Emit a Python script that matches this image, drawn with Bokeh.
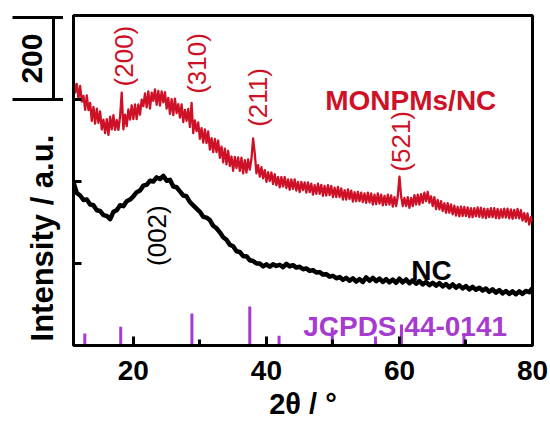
from bokeh.plotting import figure
from bokeh.layouts import row
from bokeh.models import FixedTicker, Label, Range1d
from bokeh.core.properties import value
from bokeh.embed import file_html
from bokeh.resources import INLINE
import numpy as np

RED = "#CE1126"
PURPLE = "#A63BD1"
FONT = "Liberation Sans"

# 2-theta sampling of the two scans
red_start, red_step = 11.0, 0.25
black_start, black_step = 11.0, 0.5

# MONPMs/NC diffractogram (a.u.), 11-80 deg in 0.25 deg steps
monpms_nc = [
    653, 617, 638, 602,  633, 595, 609, 575,  610, 574, 592, 548,
    582, 541, 578, 543,  571, 527, 551, 518,  552, 514, 558, 527,
    562, 526, 550, 526,  558, 617, 527, 563,  535, 576, 551, 586,
    552, 588, 552, 588,  563, 600, 584, 615,  581, 620, 578, 617,
    597, 625, 587, 621,  585, 620, 593, 618,  578, 604, 565, 601,
    562, 602, 567, 589,  556, 588, 545, 575,  548, 577, 533, 592,
    518, 549, 523, 544,  504, 530, 495, 527,  494, 522, 478, 506,
    472, 504, 472, 500,  458, 485, 447, 480,  442, 475, 438, 461,
    426, 460, 433, 459,  426, 458, 420, 452,  422, 454, 429, 455,
    505, 468, 420, 440,  412, 435, 408, 428,  399, 423, 401, 422,
    394, 418, 391, 411,  386, 411, 388, 411,  384, 405, 380, 405,
    382, 405, 378, 399,  374, 399, 379, 398,  373, 398, 374, 395,
    368, 391, 370, 395,  370, 392, 365, 389,  366, 391, 367, 389,
    362, 385, 362, 387,  362, 383, 356, 379,  356, 381, 357, 378,
    351, 374, 352, 375,  352, 373, 350, 371,  348, 373, 349, 371,
    344, 368, 345, 371,  346, 368, 342, 365,  343, 368, 344, 366,
    339, 362, 340, 364,  412, 364, 340, 360,  340, 362, 336, 360,
    340, 367, 344, 368,  344, 369, 348, 373,  352, 375, 348, 364,
    340, 362, 333, 355,  332, 352, 328, 347,  324, 347, 324, 344,
    320, 341, 317, 338,  315, 339, 316, 338,  316, 337, 313, 335,
    313, 335, 315, 337,  314, 336, 312, 334,  311, 333, 313, 335,
    313, 335, 311, 333,  310, 332, 312, 334,  312, 334, 310, 332,
    309, 331, 311, 333,  310, 330, 305, 323,  302, 322, 295, 313,
    302,
]

# NC diffractogram (a.u.), 11-80 deg in 0.5 deg steps
nc = [
    398, 372, 366, 355, 356, 344, 342, 330, 328, 318, 316, 308,
    326, 330, 342, 340, 352, 356, 364, 374, 378, 390, 392, 402,
    400, 410, 406, 414, 402, 404, 388, 386, 376, 366, 364, 350,
    342, 334, 326, 314, 312, 306, 292, 286, 276, 264, 258, 246,
    242, 230, 228, 218, 218, 208, 206, 200, 200, 193, 198, 192,
    198, 194, 197, 191, 199, 193, 196, 190, 192, 186, 188, 182,
    184, 178, 179, 173, 174, 168, 170, 164, 167, 160, 165, 158,
    164, 156, 162, 155, 166, 158, 165, 157, 163, 155, 162, 154,
    161, 153, 163, 154, 161, 152, 159, 151, 157, 149, 155, 147,
    153, 146, 152, 144, 150, 142, 149, 141, 147, 139, 145, 137,
    143, 136, 141, 134, 139, 131, 137, 129, 135, 127, 133, 126,
    132, 125, 132, 126, 133, 130, 140,
]

# JCPDS 44-0141 reference lines
ref_pos = [12.7, 18.1, 28.8, 37.5, 41.9, 49.9, 56.4, 60.3, 69.7]
ref_int = [29, 46, 78, 95, 24, 44, 22, 51, 29]

# Miller indices of the reflections
hkl_red = ["(200)", "(310)", "(211)", "(521)"]
hkl_red_x = [18.6, 29.6, 38.8, 60.2]
hkl_red_y = [706, 688, 605, 498]

# intensity scale bar (a.u.)
bar_lo, bar_hi = 600, 800

red_x = red_start + red_step * np.arange(len(monpms_nc))
black_x = black_start + black_step * np.arange(len(nc))

Y_RANGE = (0, 805)

# ---------------- main panel ----------------
p = figure(
    frame_width=459, frame_height=330,
    x_range=Range1d(11, 80), y_range=Range1d(*Y_RANGE),
    output_backend="svg", toolbar_location=None,
    min_border_left=10, min_border_right=18,
    min_border_top=15, min_border_bottom=81,
)
p.grid.visible = False
p.outline_line_color = "black"
p.outline_line_width = 3
p.background_fill_color = "white"
p.border_fill_color = "white"

xa = p.xaxis[0]
xa.ticker = FixedTicker(ticks=[20, 40, 60, 80], minor_ticks=[30, 50, 70])
xa.axis_line_width = 3
xa.major_tick_line_width = 3
xa.minor_tick_line_width = 3
xa.major_tick_in = 9
xa.major_tick_out = 0
xa.minor_tick_in = 6
xa.minor_tick_out = 0
xa.major_label_text_font = FONT
xa.major_label_text_font_style = "bold"
xa.major_label_text_font_size = "28px"
xa.major_label_text_color = "black"
xa.major_label_standoff = 15
xa.axis_label = "2θ / °"
xa.axis_label_text_font = FONT
xa.axis_label_text_font_style = "bold"
xa.axis_label_text_font_size = "29px"
xa.axis_label_text_color = "black"
xa.axis_label_standoff = 5

ya = p.yaxis[0]
ya.ticker = FixedTicker(ticks=[200, 400, 600], minor_ticks=[])
ya.axis_line_width = 3
ya.major_tick_line_width = 3
ya.major_tick_in = 8
ya.major_tick_out = 0
ya.minor_tick_line_color = None
ya.major_label_overrides = {200: "", 400: "", 600: ""}
ya.major_label_text_font_size = "1px"
ya.major_label_standoff = 0

p.line(black_x, nc, line_color="black", line_width=4.5, line_join="round")
p.line(red_x, monpms_nc, line_color=RED, line_width=2.3, line_join="round")

p.segment(x0=ref_pos, y0=[0] * len(ref_pos), x1=ref_pos, y1=ref_int,
          line_color=PURPLE, line_width=3)

for t, x, y in zip(hkl_red, hkl_red_x, hkl_red_y):
    p.add_layout(Label(x=x, y=y, text=t, angle=np.pi / 2,
                       text_align="center", text_baseline="middle",
                       text_font=FONT, text_font_size="26px",
                       text_color=RED))
p.add_layout(Label(x=23.6, y=268, text="(002)", angle=np.pi / 2,
                   text_align="center", text_baseline="middle",
                   text_font=FONT, text_font_size="26px", text_color="black"))

p.add_layout(Label(x=61.7, y=598, text="MONPMs/NC", text_align="center",
                   text_baseline="alphabetic", text_font=FONT,
                   text_font_style="bold", text_font_size="28px",
                   text_color=RED))
p.add_layout(Label(x=64.8, y=183, text="NC", text_align="center",
                   text_baseline="alphabetic", text_font=FONT,
                   text_font_style="bold", text_font_size="28px",
                   text_color="black"))
p.add_layout(Label(x=60.85, y=46, text="JCPDS 44-0141", text_align="center",
                   text_baseline="alphabetic", text_font=FONT,
                   text_font_style="bold", text_font_size="28px",
                   text_color=PURPLE))

# ---------------- left strip: y title and scale bar ----------------
side = figure(
    frame_width=63, frame_height=330,
    x_range=Range1d(0, 63), y_range=Range1d(*Y_RANGE),
    x_axis_location=None, y_axis_location=None,
    output_backend="svg", toolbar_location=None,
    min_border_left=0, min_border_right=0,
    min_border_top=15, min_border_bottom=81,
)
side.grid.visible = False
side.outline_line_color = None
side.background_fill_color = "white"
side.border_fill_color = "white"

side.segment(x0=[53, 12, 12], y0=[bar_lo, bar_lo, bar_hi],
             x1=[53, 63, 63], y1=[bar_hi, bar_lo, bar_hi],
             line_color="black", line_width=3)
side.text(x=[31], y=[(bar_lo + bar_hi) / 2], text=["200"], angle=np.pi / 2,
          text_align="center", text_baseline="middle",
          text_font=value(FONT), text_font_style="bold",
          text_font_size="30px", text_color="black")
side.text(x=[42], y=[262], text=["Intensity / a.u."], angle=np.pi / 2,
          text_align="center", text_baseline="middle",
          text_font=value(FONT), text_font_style="bold",
          text_font_size="31px", text_color="black")

layout = row(side, p)
open("out.html", "w").write(file_html(layout, INLINE))
